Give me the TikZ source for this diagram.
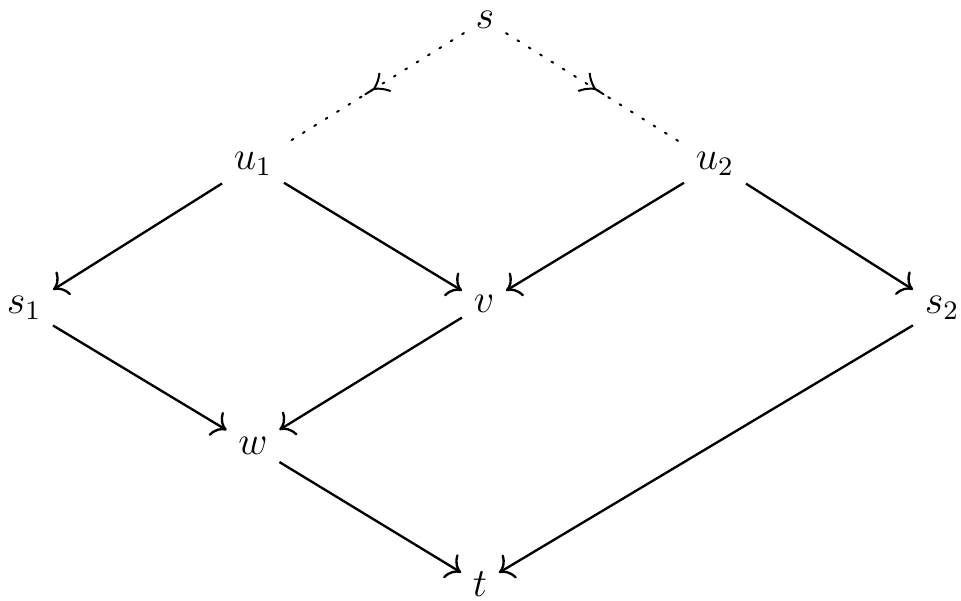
\documentclass[tikz,border=0pt]{standalone}
\usetikzlibrary{arrows.meta,decorations.markings}
\tikzset{
  every node/.style={font=\fontsize{11.5}{14}\selectfont},
  map/.style={-{To[scale=1.25]}, line width=0.7pt},
  tailmap/.style={line width=0.6pt, dash pattern=on 0.6pt off 3.4pt, line cap=round,
    postaction={decorate},
    decoration={markings, mark=at position 0.5 with {
      \draw[solid, line width=0.6pt, line cap=butt]
        (-3.9pt,3.2pt) .. controls (-3pt,2pt) and (-2pt,1pt) .. (0,0)
        .. controls (-2pt,-1pt) and (-3pt,-2pt) .. (-3.9pt,-3.2pt);
      \draw[solid, line width=0.6pt] (0,0) -- (3pt,0);}}}
}
\begin{document}
\begin{tikzpicture}[x=0.0105cm, y=-0.0105cm]
\useasboundingbox (0,0) rectangle (961,601);
\node (s) at (485,20) {$s$};
\node (u1) at (253,164) {$u_1$};
\node (u2) at (715,164) {$u_2$};
\node (s1) at (24,308) {$s_1$};
\node (v) at (484,304) {$v$};
\node (s2) at (942,308) {$s_2$};
\node (w) at (253,446) {$w$};
\node (t) at (480,584) {$t$};
\draw[tailmap] (s) -- (u1);
\draw[tailmap] (s) -- (u2);
\draw[map] (u1) -- (s1);
\draw[map] (u1) -- (v);
\draw[map] (u2) -- (v);
\draw[map] (u2) -- (s2);
\draw[map] (s1) -- (w);
\draw[map] (v) -- (w);
\draw[map] (w) -- (t);
\draw[map] (s2) -- (t);
\end{tikzpicture}
\end{document}
